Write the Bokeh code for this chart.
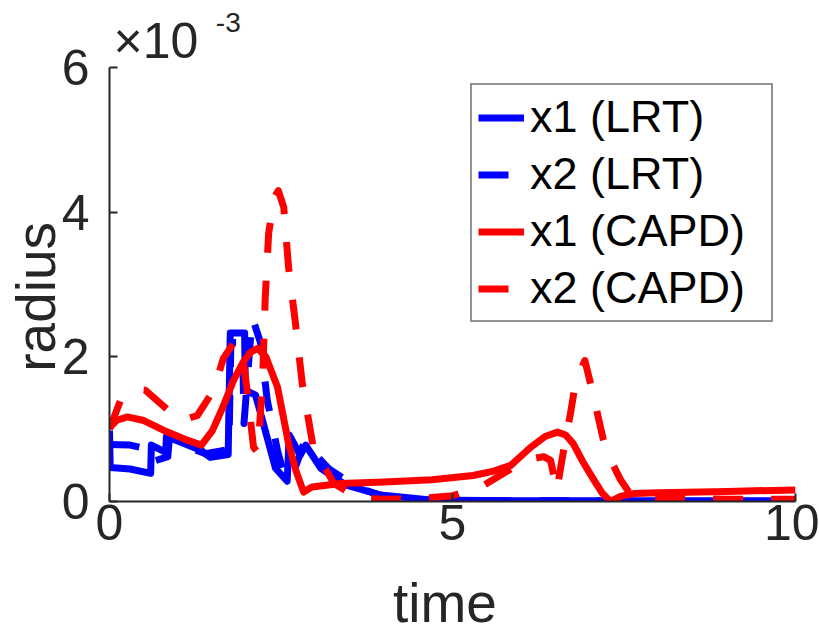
from bokeh.plotting import figure
from bokeh.models import Range1d, FixedTicker, Label, Legend, LegendItem
from bokeh.embed import file_html
from bokeh.resources import INLINE

# ---- data (y in units of 1e-3) ----
t_x1_lrt = [0, 0.01, 0.3, 0.6, 0.61, 0.82, 0.83, 1.33, 1.47, 1.73, 1.76, 1.97, 1.98, 2.13,
            2.42, 2.59, 2.62, 2.78, 2.86, 3.08, 3.44, 3.95, 4.68, 6.0, 8.0, 10.0]
y_x1_lrt = [0.98, 0.47, 0.45, 0.39, 0.78, 0.68, 0.90, 0.71, 0.61, 0.65, 2.33, 2.33, 1.54, 1.47,
            0.46, 0.28, 0.92, 0.64, 0.78, 0.46, 0.23, 0.09, 0.02, 0.01, 0.01, 0.01]

t_x2_lrt = [0, 0.3, 0.6, 0.62, 0.85, 0.87, 1.4, 1.74, 1.77, 1.94, 1.96, 2.08, 2.2, 2.3,
            2.45, 2.55, 2.6, 2.63, 2.72, 2.85, 2.95, 3.2, 3.6, 4.0, 4.5, 5.0, 10.0]
y_x2_lrt = [0.79, 0.78, 0.72, 0.55, 0.62, 0.85, 0.66, 0.72, 2.2, 2.2, 1.08, 2.55, 2.2, 1.4,
            0.7, 0.35, 0.3, 0.95, 0.5, 0.85, 0.7, 0.45, 0.2, 0.07, 0.02, 0.01, 0.01]

t_x1_capd = [0, 0.1, 0.26, 0.5, 0.8, 1.1, 1.34, 1.5, 1.65, 1.81, 1.95, 2.05, 2.16, 2.28,
             2.45, 2.61, 2.72, 2.83, 2.95, 3.37, 4.0, 4.7, 5.3, 5.6, 5.85, 6.14, 6.35, 6.53,
             6.65, 6.76, 6.9, 7.06, 7.18, 7.3, 7.45, 7.64, 8.0, 9.0, 10.0]
y_x1_capd = [1.02, 1.12, 1.17, 1.12, 0.98, 0.86, 0.78, 0.98, 1.3, 1.68, 1.93, 2.06, 2.12, 2.0,
             1.58, 0.8, 0.42, 0.13, 0.2, 0.25, 0.27, 0.3, 0.36, 0.42, 0.5, 0.75, 0.9, 0.96,
             0.92, 0.8, 0.55, 0.3, 0.12, 0.0, 0.07, 0.11, 0.12, 0.14, 0.16]

t_x2_capd = [0, 0.16, 0.35, 0.52, 0.86, 1.05, 1.28, 1.52, 1.66, 1.8, 1.87, 1.95, 2.0, 2.1,
             2.16, 2.23, 2.27, 2.32, 2.4, 2.46, 2.54, 2.61, 2.71, 2.81, 2.97, 3.08, 3.27, 3.62,
             4.0, 4.5, 5.0, 5.45, 5.85, 6.1, 6.33, 6.43, 6.52, 6.62, 6.72, 6.8, 6.93, 7.02,
             7.2, 7.26, 7.45, 7.6, 8.0, 9.0, 10.0]
y_x2_capd = [1.0, 1.4, 1.55, 1.54, 1.26, 1.12, 1.19, 1.54, 1.98, 2.18, 2.2, 1.95, 1.58, 0.75,
             0.68, 1.63, 2.82, 3.71, 4.2, 4.3, 4.07, 3.24, 2.47, 1.63, 0.75, 0.57, 0.25, 0.05,
             0.03, 0.04, 0.08, 0.22, 0.45, 0.58, 0.62, 0.57, 0.15, 0.71, 1.22, 1.68, 1.95, 1.6,
             0.85, 0.66, 0.3, 0.09, 0.05, 0.03, 0.03]

series_labels = ["x1 (LRT)", "x2 (LRT)", "x1 (CAPD)", "x2 (CAPD)"]
x_ticks = [0, 5, 10]
y_ticks = [0, 2, 4, 6]
y_axis_max = 6
exponent_base = "\u00d710"
exponent_power = "-3"

FONT = "Liberation Sans"
AX = "#262626"
BLUE = "#0000ff"
RED = "#ff0000"
LW = 7
DASH = "30 28"
NBSP = "\u00a0"

# frame extends above the y axis so the exponent label fits inside it
p = figure(width=819, height=638, x_range=Range1d(0, 10), y_range=Range1d(0, 6.93),
           output_backend="svg", toolbar_location=None,
           min_border_left=109, min_border_right=24, min_border_top=0, min_border_bottom=137)
p.outline_line_color = None
p.grid.visible = False
p.background_fill_color = "white"
p.border_fill_color = "white"

for ax, ticks in ((p.xaxis[0], x_ticks), (p.yaxis[0], y_ticks)):
    ax.ticker = FixedTicker(ticks=ticks)
    ax.axis_line_color = AX
    ax.axis_line_width = 2
    ax.major_tick_line_color = AX
    ax.major_tick_line_width = 2
    ax.major_tick_in = 8
    ax.major_tick_out = 0
    ax.minor_tick_line_color = None
    ax.major_label_text_font = FONT
    ax.major_label_text_font_size = "50px"
    ax.major_label_text_color = AX
    ax.axis_label_text_font = FONT
    ax.axis_label_text_font_size = "55px"
    ax.axis_label_text_font_style = "normal"
    ax.axis_label_text_color = AX
p.yaxis.bounds = (0, y_axis_max)
p.xaxis.major_label_standoff = 3
p.yaxis.major_label_standoff = 20
p.xaxis.axis_label = "time" + NBSP
p.yaxis.axis_label = "radius" + NBSP * 6
p.xaxis.axis_label_standoff = 29
p.yaxis.axis_label_standoff = -8

series = [
    (t_x1_lrt, y_x1_lrt, BLUE, "solid"),
    (t_x2_lrt, y_x2_lrt, BLUE, DASH),
    (t_x1_capd, y_x1_capd, RED, "solid"),
    (t_x2_capd, y_x2_capd, RED, DASH),
]
items = []
for (t, y, c, d), lab in zip(series, series_labels):
    r = p.line(t, y, line_color=c, line_width=LW, line_dash=d, line_join="round")
    items.append(LegendItem(label=lab, renderers=[r]))

legend = Legend(items=items, location=(361, 179))
legend.label_text_font = FONT
legend.label_text_font_size = "45px"
legend.label_text_color = "black"
legend.glyph_width = 46
legend.glyph_height = 47
legend.label_height = 47
legend.label_width = 235
legend.label_standoff = 6
legend.spacing = 5
legend.padding = 6
legend.margin = 0
legend.border_line_color = AX
legend.border_line_width = 2
legend.background_fill_color = "white"
legend.background_fill_alpha = 1.0
p.add_layout(legend, "center")

# exponent of the y axis (data coordinates above the axis end)
p.add_layout(Label(x=0.06, y=6.376, text=exponent_base,
                   text_align="left", text_baseline="alphabetic",
                   text_font=FONT, text_font_size="50px", text_color=AX))
p.add_layout(Label(x=1.55, y=6.625, text=exponent_power,
                   text_align="left", text_baseline="alphabetic",
                   text_font=FONT, text_font_size="28px", text_color=AX))

open("out.html", "w").write(file_html(p, INLINE))
